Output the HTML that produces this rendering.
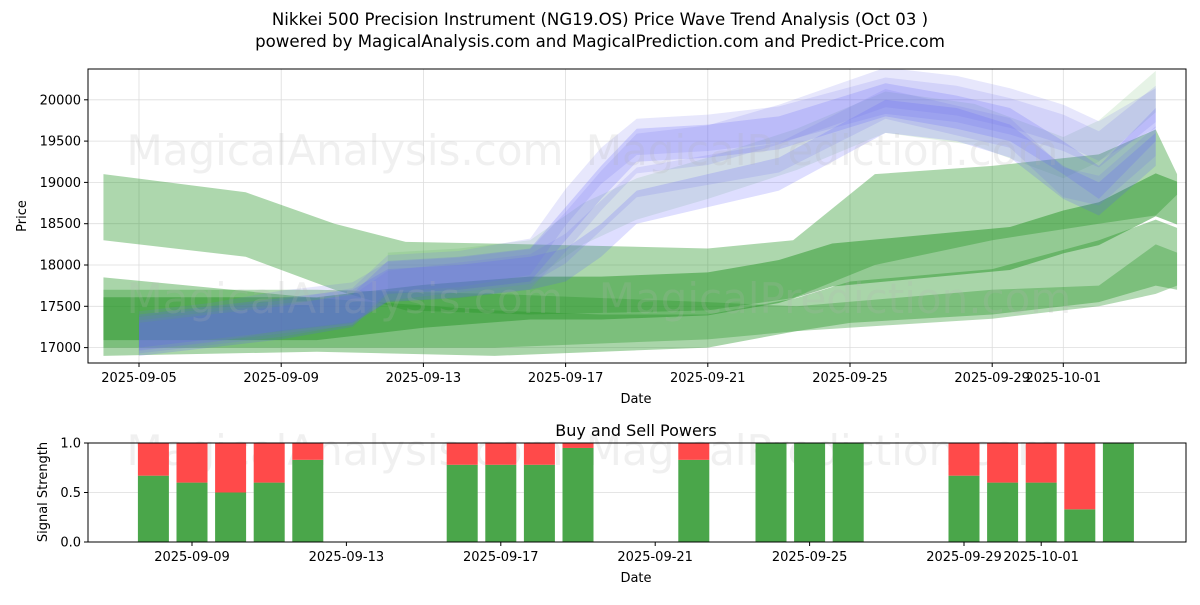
<!DOCTYPE html>
<html><head><meta charset="utf-8"><style>
body{margin:0;background:#fff;font-family:"Liberation Sans","DejaVu Sans",sans-serif}
svg text{font-family:"DejaVu Sans","Liberation Sans",sans-serif}
</style></head><body>
<svg id="c" width="1200" height="600" xmlns="http://www.w3.org/2000/svg">
<defs>
<clipPath id="cp1"><rect x="88" y="69" width="1098" height="294"/></clipPath>
<clipPath id="cp2"><rect x="88" y="443" width="1098" height="99"/></clipPath>
</defs>
<text x="600" y="25" text-anchor="middle" font-size="16.6">Nikkei 500 Precision Instrument (NG19.OS) Price Wave Trend Analysis (Oct 03 )</text>
<text x="600" y="47" text-anchor="middle" font-size="16.6">powered by MagicalAnalysis.com and MagicalPrediction.com and Predict-Price.com</text>
<g id="topG"></g>
<g id="botG"></g>
</svg>
<script>
// ---- price chart data (day index from 2025-09-05) ----
const g1Days=[-1,3,5.5,7.5,11,16,18.4,20.7,24,27,28.6,29.2];
const g1Upper=[19100,18880,18500,18280,18250,18200,18300,19100,19200,19340,19640,19100];
const g1Lower=[18300,18100,17700,17450,17400,17450,17600,18000,18300,18500,18600,18850];
const g2Days=[-1,5,8,11,13,16,18,19.5,22,24.5,26,27,28.6,29.2];
const g2Center=[17350,17350,17500,17600,17600,17650,17800,18000,18100,18200,18400,18500,18850,18750];
const g3Days=[-1,5,10,13,16,18.5,20,24,27,28.6,29.2];
const g3Upper=[17850,17600,17450,17400,17400,17600,17800,17950,18300,18550,18450];
const g3Lower=[16900,16950,16900,16950,17000,17200,17300,17400,17550,17750,17700];
const g4Days=[-1,5,10,16,18.5,24,27,28.6,29.2];
const g4Upper=[17700,17700,17650,17550,17500,17700,17750,18250,18150];
const g4Lower=[17000,17000,17000,17100,17200,17350,17500,17650,17750];
const bDays=[0,2,4,6,7,9,11,12,13,14,16,18,21,23,24.5,26,27,28.6];
const b1=[17150,17250,17350,17500,17900,17950,18100,18700,19200,19550,19600,19700,20050,19950,19800,19600,19400,19950];
const b2=[17100,17200,17300,17450,17850,17900,18000,18500,19000,19450,19500,19600,20000,19850,19700,19300,19000,19700];
const b3=[17150,17250,17350,17450,17750,17850,17950,18200,18600,19000,19150,19300,19950,19750,19600,19000,18900,19500];
const b4=[17200,17300,17400,17500,17750,17800,17900,18000,18300,18700,18900,19100,19800,19700,19500,19000,18800,19400];
const b5=[17200,17300,17450,17550,17800,17850,17950,18400,18900,19350,19450,19700,20150,20050,19900,19700,19500,19900];
const b6Days=[7,9,11,12.5,14,16,18.5,21,23.5,26,27,28.6];
const b6=[17900,17950,18050,18500,18800,19050,19400,19850,19700,19300,19500,20100];
const yTicks=[17000,17500,18000,18500,19000,19500,20000];
const xTickDays=[0,4,8,12,16,20,24,26];
const xTickLabels=["2025-09-05","2025-09-09","2025-09-13","2025-09-17","2025-09-21","2025-09-25","2025-09-29","2025-10-01"];
// ---- signal data (day index from 2025-09-05) ----
const sDays=[3,4,5,6,7,11,12,13,14,17,19,20,21,24,25,26,27,28];
const sBuy=[0.67,0.6,0.5,0.6,0.83,0.78,0.78,0.78,0.95,0.83,1,1,1,0.67,0.6,0.6,0.33,1];
const sTicks=[0,0.5,1];
const sTickDays=[4,8,12,16,20,24,26];
const sTickLabels=["2025-09-09","2025-09-13","2025-09-17","2025-09-21","2025-09-25","2025-09-29","2025-10-01"];

const NS="http://www.w3.org/2000/svg";
const X=d=>139+d*35.55, Y=p=>347.6-(p-17000)*0.0826;
const X2=d=>37.6+d*38.6, Y2=v=>542-v*99;
function mk(tag,attrs,parent){const e=document.createElementNS(NS,tag);for(const k in attrs)e.setAttribute(k,attrs[k]);parent.appendChild(e);return e;}
const topG=document.getElementById('topG'), botG=document.getElementById('botG');
yTicks.forEach(v=>{
 const l=mk('line',{x1:88,x2:1186,y1:Y(v),y2:Y(v),stroke:'#ddd','stroke-width':0.8},topG);
 
 
 mk('line',{x1:84,x2:88,y1:Y(v),y2:Y(v),stroke:'#000'},topG);
 const t=mk('text',{x:81,y:Y(v)+4.5,'text-anchor':'end','font-size':13},topG);t.textContent=v;
 
 
});
xTickDays.forEach((d,i)=>{
 mk('line',{x1:X(d),x2:X(d),y1:69,y2:363,stroke:'#ddd','stroke-width':0.8},topG);
 mk('line',{x1:X(d),x2:X(d),y1:363,y2:367,stroke:'#000'},topG);
 const t=mk('text',{x:X(d),y:382,'text-anchor':'middle','font-size':13},topG);t.textContent=xTickLabels[i];
 
 
});
const bands=mk('g',{'clip-path':'url(#cp1)'},topG);


function band(days,up,lo,fill,name){
 let pts=days.map((d,i)=>X(d)+','+Y(up[i]));
 for(let i=days.length-1;i>=0;i--)pts.push(X(days[i])+','+Y(lo[i]));
 const p=mk('polygon',{points:pts.join(' '),fill:fill},bands);
 
 
}
const hw=(arr,h)=>[arr.map(v=>v+h),arr.map(v=>v-h)];
band(g1Days,g1Upper,g1Lower,'rgba(40,150,40,0.38)','green-band-upper');
band(g4Days,g4Upper,g4Lower,'rgba(40,150,40,0.35)','green-band-flat');
band(g3Days,g3Upper,g3Lower,'rgba(40,150,40,0.4)','green-band-lower');
let h=hw(g2Center,260);band(g2Days,h[0],h[1],'rgba(40,150,40,0.5)','green-band-middle');
h=hw(b6,250);band(b6Days,h[0],h[1],'rgba(60,160,60,0.13)','light-green-band');
[[b1,220],[b2,200],[b3,180],[b4,200],[b5,240]].forEach(([arr,w],i)=>{h=hw(arr,w);band(bDays,h[0],h[1],i%2?'rgba(90,90,255,0.2)':'rgba(110,110,240,0.17)','blue-band-'+(i+1));});
[[345,150,'MagicalAnalysis.com'],[822,150,'MagicalPrediction.com'],[345,298,'MagicalAnalysis.com'],[835,298,'MagicalPrediction.com'],[345,450,'MagicalAnalysis.com'],[822,450,'MagicalPrediction.com']].forEach(([x,y,s])=>{
 const t=mk('text',{x:x,y:y+15,'text-anchor':'middle','font-size':42,fill:'rgba(180,180,180,0.2)'},topG);t.textContent=s;
 
 
});
mk('rect',{x:88,y:69,width:1098,height:294,fill:'none',stroke:'#000','stroke-width':1},topG);
let t=mk('text',{x:636,y:403,'text-anchor':'middle','font-size':13},topG);t.textContent='Date';

t=mk('text',{x:0,y:0,'text-anchor':'middle','font-size':13,transform:'translate(26,216) rotate(-90)'},topG);t.textContent='Price';

sTicks.forEach(v=>{
 mk('line',{x1:88,x2:1186,y1:Y2(v),y2:Y2(v),stroke:'#ddd','stroke-width':0.8},botG);
 mk('line',{x1:84,x2:88,y1:Y2(v),y2:Y2(v),stroke:'#000'},botG);
 const tt=mk('text',{x:81,y:Y2(v)+4.5,'text-anchor':'end','font-size':13},botG);tt.textContent=v.toFixed(1);
 
 
});
sTickDays.forEach((d,i)=>{
 mk('line',{x1:X2(d),x2:X2(d),y1:542,y2:546,stroke:'#000'},botG);
 const tt=mk('text',{x:X2(d),y:561,'text-anchor':'middle','font-size':13},botG);tt.textContent=sTickLabels[i];
 
 
});
const bars=mk('g',{'clip-path':'url(#cp2)'},botG);
sDays.forEach((d,i)=>{
 const x=X2(d)-15.5,b=sBuy[i];
 const g=mk('rect',{x:x,y:Y2(b),width:31,height:Y2(0)-Y2(b),fill:'#4aa64a'},bars);
 
 
 const r=mk('rect',{x:x,y:Y2(1),width:31,height:Y2(b)-Y2(1),fill:'#ff4a4a'},bars);
 
 
});
mk('rect',{x:88,y:443,width:1098,height:99,fill:'none',stroke:'#000','stroke-width':1},botG);
t=mk('text',{x:636,y:436,'text-anchor':'middle','font-size':16},botG);t.textContent='Buy and Sell Powers';

t=mk('text',{x:636,y:582,'text-anchor':'middle','font-size':13},botG);t.textContent='Date';

t=mk('text',{x:0,y:0,'text-anchor':'middle','font-size':13,transform:'translate(47,492) rotate(-90)'},botG);t.textContent='Signal Strength';

</script>
</body></html>
